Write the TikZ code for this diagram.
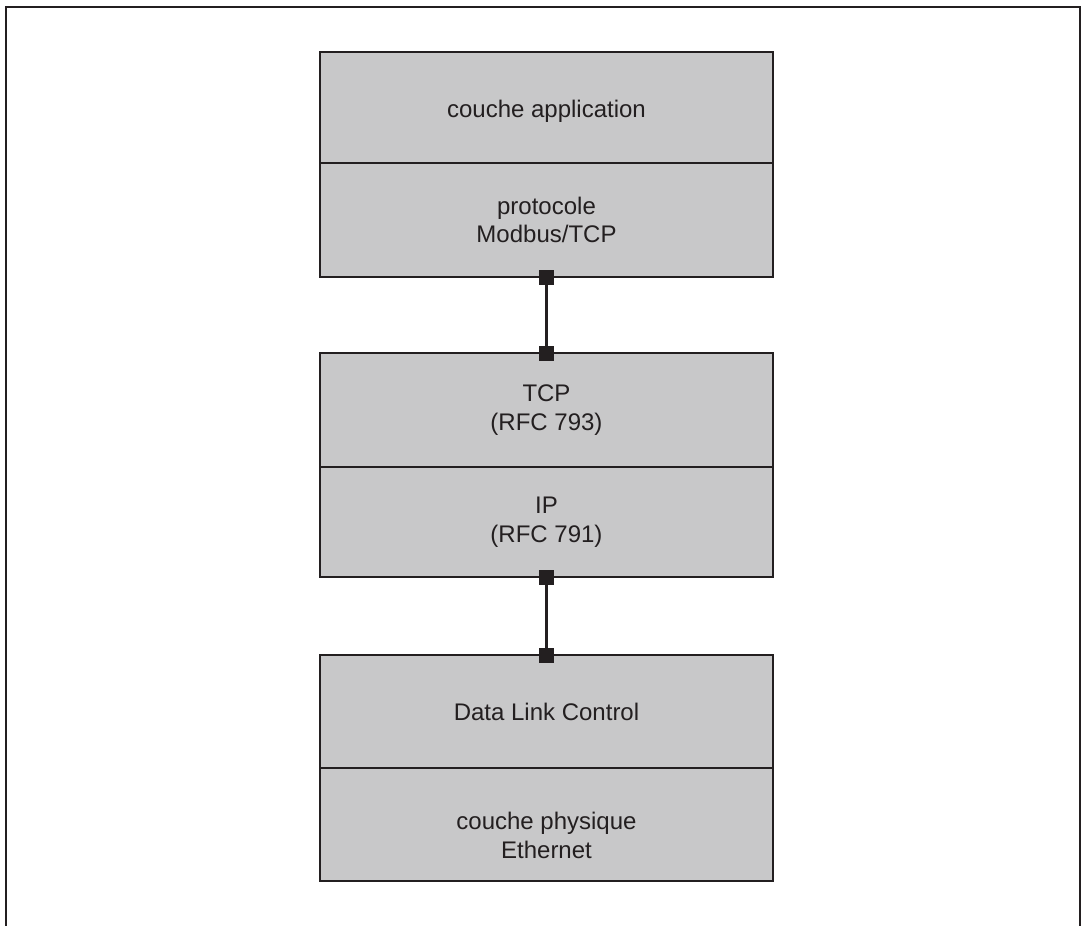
\documentclass[tikz,border=0pt]{standalone}
\usepackage{fontspec}
\setmainfont{Liberation Sans}
\usepackage{tikz}
\usetikzlibrary{arrows.meta, positioning}
\usepackage{xcolor}
\definecolor{LayerGray}{HTML}{C8C8C9}
\definecolor{LayerLine}{HTML}{231F20}
\tikzset{
    layer/.style={
        draw=LayerLine,
        fill=LayerGray,
        line width=2.5pt,
        minimum width=453pt,
        minimum height=#1,
        text=LayerLine,
        font=\fontsize{24pt}{28.5pt}\selectfont,
        align=center,
        inner sep=0pt,
        outer sep=0pt
    },
    layer/.default=112pt,
    link/.style={
        {Square[length=15pt,width=15pt]}-{Square[length=15pt,width=15pt]},
        shorten <=-7.5pt,
        shorten >=-7.5pt,
        line width=3pt,
        LayerLine
    },
    frame/.style={
        draw=LayerLine,
        line width=2pt
    }
}
\begin{document}
\begin{tikzpicture}[x=1pt, y=1pt]
        \useasboundingbox (0,0) rectangle (1088,-926);

        % Frame
        \draw[frame] (6,-926) -- (6,-7) -- (1080,-7) -- (1080,-926);

        % Application stack
        \node[layer=111pt, text height=25pt] (app) at (546.5,-107.5) {couche application};
        \node[layer=114pt, below=0pt of app] (modbus) {protocole\\Modbus/TCP};

        % Transport and network
        \node[layer=114pt, below=76pt of modbus] (tcp) {TCP\\(RFC 793)};
        \node[layer=110pt, below=0pt of tcp] (ip) {IP\\(RFC 791)};

        % Link and physical
        \node[layer=113pt, below=78pt of ip] (dlc) {Data Link Control};
        \node[layer=113pt, below=0pt of dlc, text height=68pt] (phys) {couche physique\\Ethernet};

        % Links
        \draw[link] (modbus.south) -- (tcp.north);
        \draw[link] (ip.south) -- (dlc.north);
    \end{tikzpicture}
\end{document}
